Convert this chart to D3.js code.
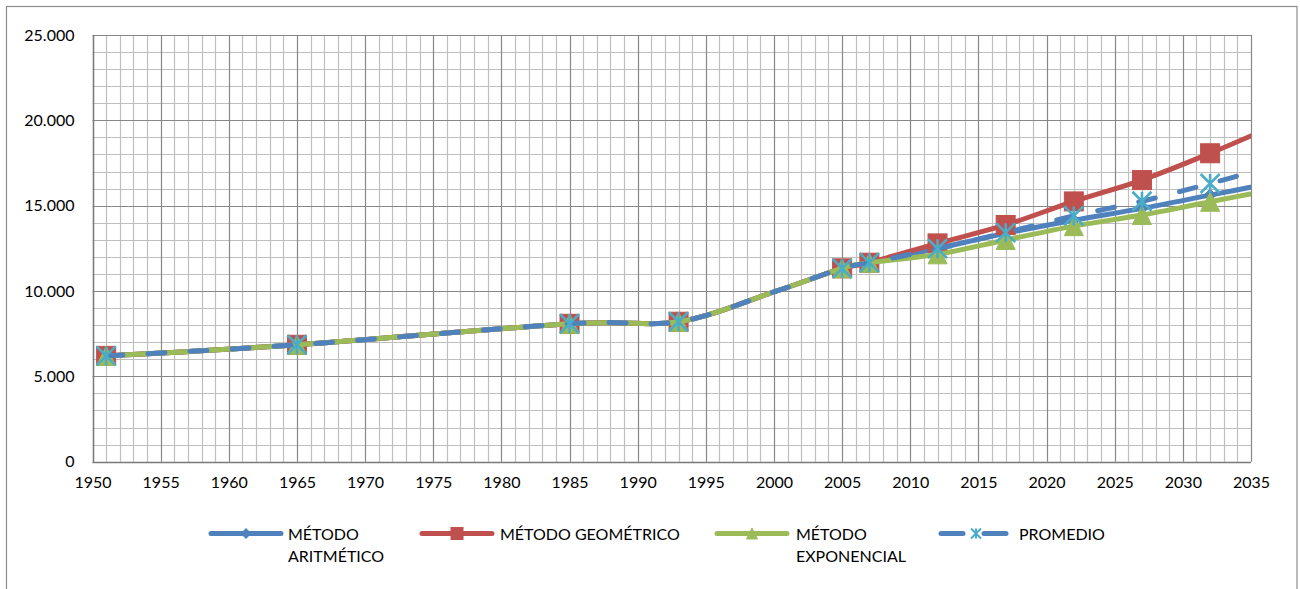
<!DOCTYPE html>
<html>
<head>
<meta charset="utf-8">
<script src="https://cdn.jsdelivr.net/npm/d3@7"></script>
<style>
  html, body { margin: 0; padding: 0; background: #fff; }
  svg { display: block; font-family: Lato, "Liberation Sans", sans-serif; }
</style>
</head>
<body>
<svg id="chart" width="1300" height="589"></svg>
<script>
// Population projection by method (habitantes)
const years = [1951, 1965, 1985, 1993, 2000, 2005, 2007, 2012, 2017, 2022, 2027, 2032, 2037];
const markerYears = [1951, 1965, 1985, 1993, 2005, 2007, 2012, 2017, 2022, 2027, 2032];
const aritmetico  = [6200, 6850, 8080, 8200, 9950, 11330, 11660, 12500, 13380, 14150, 14840, 15620, 16400];
const geometrico  = [6200, 6850, 8080, 8200, 9950, 11330, 11660, 12790, 13870, 15250, 16500, 18070, 19790];
const exponencial = [6200, 6850, 8080, 8200, 9950, 11330, 11660, 12150, 12990, 13800, 14450, 15230, 16000];
const promedio    = [6200, 6850, 8080, 8200, 9950, 11330, 11660, 12480, 13420, 14400, 15260, 16300, 17400];

const seriesNames = ["MÉTODO\nARITMÉTICO", "MÉTODO GEOMÉTRICO", "MÉTODO\nEXPONENCIAL", "PROMEDIO"];
const yTicks = [0, 5000, 10000, 15000, 20000, 25000];
const xTicks = [1950, 1955, 1960, 1965, 1970, 1975, 1980, 1985, 1990, 1995, 2000, 2005, 2010, 2015, 2020, 2025, 2030, 2035];

const svg = d3.select("#chart");
const plot = { left: 92.5, right: 1251, top: 35, bottom: 461.7 };

const x = d3.scaleLinear().domain([1950, 2035]).range([plot.left, plot.right]);
const y = d3.scaleLinear().domain([0, 25000]).range([plot.bottom, plot.top]);

const fmt = d3.formatLocale({ decimal: ",", thousands: ".", grouping: [3] }).format(",d");

// outer chart frame
svg.append("rect")
  .attr("x", 6.5).attr("y", 6.5).attr("width", 1290.5).attr("height", 600)
  .attr("fill", "none").attr("stroke", "#8c8c8c").attr("stroke-width", 1.2);

// grid: minor every year / 1000, major every 5 years / 5000
const grid = svg.append("g");
const minorX = d3.range(1950, 2036).filter(v => v % 5 !== 0);
const minorY = d3.range(0, 25001, 1000).filter(v => v % 5000 !== 0);
grid.selectAll(".mx").data(minorX).join("line")
  .attr("x1", d => Math.round(x(d)) + 0.5).attr("x2", d => Math.round(x(d)) + 0.5)
  .attr("y1", plot.top).attr("y2", plot.bottom)
  .attr("stroke", "#bfbfbf").attr("stroke-width", 1.2);
grid.selectAll(".my").data(minorY).join("line")
  .attr("y1", d => Math.round(y(d)) + 0.5).attr("y2", d => Math.round(y(d)) + 0.5)
  .attr("x1", plot.left).attr("x2", plot.right)
  .attr("stroke", "#bfbfbf").attr("stroke-width", 1.2);
grid.selectAll(".Mx").data(xTicks).join("line")
  .attr("x1", d => Math.round(x(d)) + 0.5).attr("x2", d => Math.round(x(d)) + 0.5)
  .attr("y1", plot.top).attr("y2", plot.bottom)
  .attr("stroke", "#878787").attr("stroke-width", 1.2);
grid.selectAll(".My").data(yTicks).join("line")
  .attr("y1", d => Math.round(y(d)) + 0.5).attr("y2", d => Math.round(y(d)) + 0.5)
  .attr("x1", plot.left).attr("x2", plot.right)
  .attr("stroke", "#878787").attr("stroke-width", 1.2);

// axes (labels only; axis lines coincide with major grid lines)
const xAxis = svg.append("g")
  .attr("transform", `translate(0,${plot.bottom})`)
  .call(d3.axisBottom(x).tickValues(xTicks).tickFormat(d3.format("d")).tickSize(0).tickPadding(15));
const yAxis = svg.append("g")
  .attr("transform", `translate(${plot.left},0)`)
  .call(d3.axisLeft(y).tickValues(yTicks).tickFormat(fmt).tickSize(0).tickPadding(18));
[xAxis, yAxis].forEach(a => {
  a.select(".domain").remove();
  a.selectAll("text").attr("font-size", 16).attr("fill", "#000")
    .attr("font-family", "Lato, 'Liberation Sans', sans-serif");
});
xAxis.selectAll("text").attr("dy", "0.71em");
svg.append("line").attr("x1", plot.left).attr("x2", plot.right)
  .attr("y1", Math.round(plot.bottom) + 0.5).attr("y2", Math.round(plot.bottom) + 0.5)
  .attr("stroke", "#7a7a7a").attr("stroke-width", 1.4);
svg.append("line").attr("x1", Math.round(plot.left) + 0.5).attr("x2", Math.round(plot.left) + 0.5)
  .attr("y1", plot.top).attr("y2", plot.bottom)
  .attr("stroke", "#7a7a7a").attr("stroke-width", 1.4);

// series
svg.append("clipPath").attr("id", "plotClip").append("rect")
  .attr("x", plot.left).attr("y", plot.top - 20)
  .attr("width", plot.right - plot.left).attr("height", plot.bottom - plot.top + 40);

const colors = { blue: "#4f81bd", red: "#c0504d", green: "#9bbb59", cyan: "#4bacc6" };
const series = [
  { values: aritmetico,  color: colors.blue,  marker: "diamond", dash: null },
  { values: geometrico,  color: colors.red,   marker: "square",  dash: null },
  { values: exponencial, color: colors.green, marker: "triangle", dash: null },
  { values: promedio,    color: colors.blue,  marker: "star",    dash: "17,25" }
];

const line = d3.line()
  .x(d => x(d.year)).y(d => y(d.value))
  .curve(d3.curveCardinal.tension(0));

function drawMarker(g, type, cx, cy, s) {
  if (type === "diamond") {
    g.append("path").attr("d", `M${cx},${cy - s / 2}L${cx + s / 2},${cy}L${cx},${cy + s / 2}L${cx - s / 2},${cy}Z`)
      .attr("fill", colors.blue).attr("stroke", colors.blue).attr("stroke-width", 1);
  } else if (type === "square") {
    g.append("rect").attr("x", cx - s / 2).attr("y", cy - s / 2).attr("width", s).attr("height", s)
      .attr("fill", colors.red).attr("stroke", colors.red).attr("stroke-width", 1);
  } else if (type === "triangle") {
    g.append("path").attr("d", `M${cx},${cy - s / 2}L${cx + s / 2},${cy + s / 2}L${cx - s / 2},${cy + s / 2}Z`)
      .attr("fill", colors.green).attr("stroke", colors.green).attr("stroke-width", 1);
  } else if (type === "star") {
    const h = s / 2;
    g.append("path")
      .attr("d", `M${cx - h},${cy - h}L${cx + h},${cy + h}M${cx - h},${cy + h}L${cx + h},${cy - h}M${cx},${cy - h}L${cx},${cy + h}`)
      .attr("fill", "none").attr("stroke", colors.cyan).attr("stroke-width", s > 12 ? 2.6 : 2);
  }
}

const layer = svg.append("g").attr("clip-path", "url(#plotClip)");
series.forEach(s => {
  const pts = years.map((yr, i) => ({ year: yr, value: s.values[i] }));
  const g = layer.append("g");
  g.append("path").datum(pts)
    .attr("d", line)
    .attr("fill", "none").attr("stroke", s.color).attr("stroke-width", 5)
    .attr("stroke-linecap", "round").attr("stroke-linejoin", "round")
    .attr("stroke-dasharray", s.dash);
  pts.filter(p => markerYears.includes(p.year)).forEach(p => {
    const size = s.marker === "diamond" ? 12 : (s.marker === "star" ? 19 : 19);
    drawMarker(g, s.marker, x(p.year), y(p.value), size);
  });
});

// legend
const legendItems = [
  { lx: 211, tx: 288 },
  { lx: 422, tx: 500 },
  { lx: 717, tx: 796 },
  { lx: 941, tx: 1019 }
];
const legend = svg.append("g");
const ly = 533.5;
series.forEach((s, i) => {
  const it = legendItems[i];
  const g = legend.append("g");
  if (s.dash) {
    g.append("line").attr("x1", it.lx).attr("x2", it.lx + 22).attr("y1", ly).attr("y2", ly)
      .attr("stroke", s.color).attr("stroke-width", 5).attr("stroke-linecap", "round");
    g.append("line").attr("x1", it.lx + 43).attr("x2", it.lx + 65).attr("y1", ly).attr("y2", ly)
      .attr("stroke", s.color).attr("stroke-width", 5).attr("stroke-linecap", "round");
  } else {
    g.append("line").attr("x1", it.lx).attr("x2", it.lx + 70).attr("y1", ly).attr("y2", ly)
      .attr("stroke", s.color).attr("stroke-width", 5).attr("stroke-linecap", "round");
  }
  const msize = { diamond: 10, square: 12, triangle: 11, star: 10 }[s.marker];
  drawMarker(g, s.marker, it.lx + (s.dash ? 35 : 35), ly, msize);
  const t = g.append("text").attr("x", it.tx).attr("y", 539.5)
    .attr("font-size", 16).attr("fill", "#000");
  seriesNames[i].split("\n").forEach((ln, k) => {
    t.append("tspan").attr("x", it.tx).attr("dy", k === 0 ? 0 : 22.3).text(ln);
  });
});
</script>
</body>
</html>
